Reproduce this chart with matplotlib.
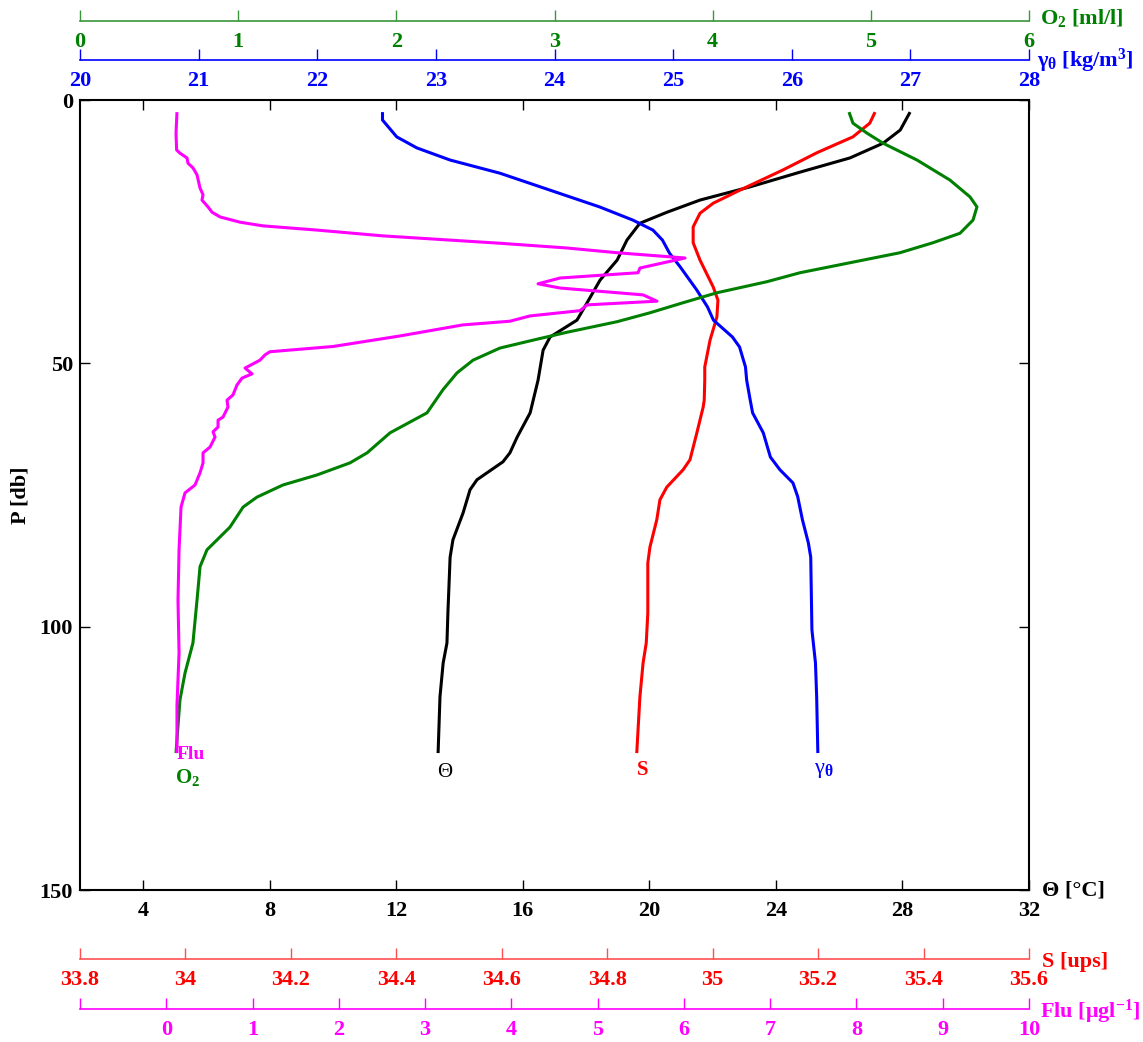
import numpy as np
import matplotlib
matplotlib.use("Agg")
import matplotlib.pyplot as plt

# profile data (pressure in db)
p_theta = [2.3, 5.7, 8.2, 11.0, 13.7, 16.5, 19.0, 21.3, 23.4, 26.6, 30.4, 34.2, 38.5, 41.8,
           45.0, 47.5, 53.2, 59.4, 64.0, 67.0, 68.7, 72.1, 74.0, 78.4, 83.5, 86.8, 97.4,
           103.1, 106.9, 113.3, 124.0]
theta = [28.24, 27.93, 27.39, 26.34, 24.76, 23.18, 21.60, 20.56, 19.70, 19.29, 18.98, 18.44,
         18.03, 17.71, 16.86, 16.64, 16.48, 16.23, 15.82, 15.59, 15.37, 14.55, 14.33, 14.11,
         13.79, 13.70, 13.63, 13.60, 13.48, 13.38, 13.32]

p_sal = [2.3, 4.4, 7.0, 10.0, 13.3, 17.1, 19.6, 21.5, 24.1, 27.1, 30.4, 35.5, 38.0, 41.2,
         45.6, 50.7, 53.2, 57.0, 58.3, 63.2, 68.3, 70.2, 73.5, 75.9, 79.7, 84.9, 87.9,
         97.4, 103.1, 106.9, 113.3, 124.0]
sal = [35.308, 35.298, 35.266, 35.198, 35.133, 35.052, 35.001, 34.976, 34.963, 34.963,
       34.976, 35.001, 35.010, 35.008, 34.995, 34.985, 34.985, 34.984, 34.982, 34.970,
       34.957, 34.944, 34.913, 34.900, 34.894, 34.881, 34.877, 34.877, 34.874, 34.868,
       34.862, 34.856]

p_gam = [2.3, 3.8, 7.0, 9.1, 11.4, 13.9, 17.1, 20.3, 22.8, 24.7, 26.6, 29.1, 31.7, 36.1,
         39.3, 41.8, 45.0, 46.9, 50.7, 53.2, 57.0, 59.4, 63.2, 67.8, 70.2, 72.7, 75.3,
         79.7, 84.1, 86.8, 100.6, 106.9, 113.3, 124.0]
gamma = [22.55, 22.55, 22.67, 22.84, 23.12, 23.54, 23.96, 24.38, 24.66, 24.83, 24.91,
         24.97, 25.06, 25.20, 25.29, 25.34, 25.50, 25.56, 25.61, 25.62, 25.65, 25.67,
         25.76, 25.82, 25.90, 26.01, 26.05, 26.09, 26.14, 26.16, 26.17, 26.20, 26.21, 26.22]

p_o2 = [2.3, 4.4, 6.3, 8.2, 11.4, 15.2, 18.4, 20.3, 22.8, 25.3, 27.1, 29.0, 30.9, 32.8,
        34.5, 36.6, 38.5, 40.4, 42.1, 44.1, 45.6, 47.1, 49.4, 51.8, 55.0, 59.4, 63.2,
        67.0, 68.9, 71.2, 73.1, 75.4, 77.3, 81.1, 85.4, 88.6, 94.9, 103.1, 108.8, 113.9,
        121.5, 124.0]
o2 = [4.862, 4.887, 4.976, 5.077, 5.292, 5.500, 5.627, 5.671, 5.646, 5.564, 5.393, 5.184,
      4.868, 4.552, 4.343, 4.027, 3.812, 3.604, 3.395, 3.079, 2.864, 2.655, 2.485, 2.384,
      2.295, 2.194, 1.960, 1.815, 1.707, 1.498, 1.283, 1.119, 1.031, 0.948, 0.803, 0.759,
      0.740, 0.714, 0.664, 0.632, 0.613, 0.607]

p_flu = [2.3, 3.8, 6.3, 9.5, 10.1, 11.0, 12.0, 12.9, 14.2, 16.7, 18.0, 19.0, 20.3, 21.3,
         22.2, 23.2, 23.9, 24.7, 25.8, 26.6, 27.2, 28.1, 29.0, 30.0, 31.9, 32.8, 33.8,
         34.9, 35.7, 37.0, 38.2, 38.9, 40.0, 41.0, 42.0, 42.7, 44.8, 46.8, 47.8, 48.4,
         49.4, 50.9, 52.0, 52.8, 54.1, 56.0, 57.0, 58.3, 60.2, 60.8, 62.1, 63.0, 64.0,
         65.9, 67.0, 68.9, 70.8, 73.1, 74.6, 77.3, 85.4, 95.0, 105.0, 115.0, 124.0]
flu = [0.124, 0.12, 0.113, 0.12, 0.159, 0.240, 0.252, 0.310, 0.356, 0.391, 0.426, 0.414,
       0.484, 0.530, 0.623, 0.855, 1.121, 1.747, 2.512, 3.289, 3.868, 4.645, 5.224, 6.013,
       5.491, 5.468, 4.564, 4.309, 4.564, 5.526, 5.688, 4.877, 4.796, 4.216, 3.984, 3.439,
       2.709, 1.933, 1.202, 1.144, 1.086, 0.913, 0.994, 0.878, 0.820, 0.773, 0.704, 0.715,
       0.658, 0.600, 0.600, 0.542, 0.565, 0.507, 0.426, 0.426, 0.391, 0.333, 0.217, 0.171,
       0.148, 0.136, 0.148, 0.124, 0.124]

theta_ticks = [4, 8, 12, 16, 20, 24, 28, 32]
p_ticks = [0, 50, 100, 150]
o2_ticks = [0, 1, 2, 3, 4, 5, 6]
gam_ticks = [20, 21, 22, 23, 24, 25, 26, 27, 28]
sal_ticks = [33.8, 34, 34.2, 34.4, 34.6, 34.8, 35, 35.2, 35.4, 35.6]
sal_labels = ["33.8", "34", "34.2", "34.4", "34.6", "34.8", "35", "35.2", "35.4", "35.6"]
flu_ticks = [-1, 0, 1, 2, 3, 4, 5, 6, 7, 8, 9, 10]

plt.rcParams["font.family"] = ["Liberation Serif", "DejaVu Serif"]
plt.rcParams["font.weight"] = "bold"
plt.rcParams["mathtext.fontset"] = "custom"
plt.rcParams["mathtext.rm"] = "Liberation Serif:bold"
plt.rcParams["mathtext.it"] = "Liberation Serif:bold"
plt.rcParams["mathtext.bf"] = "Liberation Serif:bold"

GREEN = "#008000"
BLUE = "#0000ff"
RED = "#ff0000"
MAG = "#ff00ff"
FS = 16

W, H = 1143, 1042
fig = plt.figure(figsize=(W / 100, H / 100), dpi=100)

L, R, T, B = 80, 1029, 100, 890
pos = [L / W, 1 - B / H, (R - L) / W, (B - T) / H]

ax = fig.add_axes(pos)
ax.set_xlim(2, 32)
ax.set_ylim(150, 0)
ax.set_xticks(theta_ticks)
ax.set_yticks(p_ticks)
ax.tick_params(direction="in", length=7, width=1, top=True, right=True,
               labelsize=FS, pad=8)
ax.tick_params(axis="y", pad=5)
for s in ax.spines.values():
    s.set_linewidth(1.5)


def overlay(xlim):
    a = fig.add_axes(pos, sharey=ax)
    a.set_xlim(*xlim)
    a.set_axis_off()
    a.patch.set_visible(False)
    return a


ax_s = overlay((33.8, 35.6))
ax_g = overlay((20, 28))
ax_o = overlay((0, 6))
ax_f = overlay((-1, 10))

kw = dict(lw=2.2, solid_joinstyle="round", solid_capstyle="butt")
ax_f.plot(flu, p_flu, color=MAG, **kw)
ax_o.plot(o2, p_o2, color=GREEN, **kw)
ax.plot(theta, p_theta, color="black", **kw)
ax_s.plot(sal, p_sal, color=RED, **kw)
ax_g.plot(gamma, p_gam, color=BLUE, **kw)

# curve labels
ax_f.text(0.12, 122.6, "Flu", color=MAG, fontsize=14, ha="left", va="top")
ax_o.text(0.6, 126.6, "O$_2$", color=GREEN, fontsize=15, ha="left", va="top")
ax.text(13.3, 125.8, "Θ", color="black", fontsize=15, fontweight="normal",
        ha="left", va="top")
ax_s.text(34.868, 125.3, "S", color=RED, fontsize=15, ha="center", va="top")
ax_g.text(26.19, 125.6, "γ$_θ$", color=BLUE, fontsize=16, fontweight="normal",
          ha="left", va="top")


def scale_axis(y_px, xlim, ticks, labels, line_color, text_color):
    a = fig.add_axes([L / W, 1 - y_px / H, (R - L) / W, 0.0001])
    a.set_xlim(*xlim)
    a.set_yticks([])
    a.patch.set_visible(False)
    for k in ("top", "left", "right"):
        a.spines[k].set_visible(False)
    a.spines["bottom"].set_color(line_color)
    a.spines["bottom"].set_linewidth(1.2)
    a.set_xticks(ticks)
    a.set_xticklabels(labels)
    a.tick_params(axis="x", direction="in", length=8, width=1, color=line_color,
                  labelcolor=text_color, labelsize=FS, pad=8)
    return a


scale_axis(21, (0, 6), o2_ticks, [str(t) for t in o2_ticks], "#3a963a", GREEN)
scale_axis(60, (20, 28), gam_ticks, [str(t) for t in gam_ticks], BLUE, BLUE)
scale_axis(959, (33.8, 35.6), sal_ticks, sal_labels, "#ff5050", RED)
af = scale_axis(1009, (-1, 10), flu_ticks, [""] + [str(t) for t in flu_ticks[1:]],
                MAG, MAG)
af.xaxis.get_major_ticks()[0].tick1line.set_color("#333333")

# axis titles
fig.text(1040 / W, 1 - 18 / H, "O$_2$ [ml/l]", color=GREEN, fontsize=FS, va="center")
fig.text(1037 / W, 1 - 61 / H, "γ$_θ$ [kg/m$^3$]", color=BLUE, fontsize=FS, va="center")
fig.text(1042 / W, 1 - 890 / H, "Θ [°C]", color="black", fontsize=FS, va="center")
fig.text(1042 / W, 1 - 962 / H, "S [ups]", color=RED, fontsize=FS, va="center")
fig.text(1040 / W, 1 - 1012 / H, "Flu [μgl$^{-1}$]", color=MAG, fontsize=FS, va="center")
fig.text(20 / W, 1 - 495 / H, "P [db]", color="black", fontsize=FS, rotation=90,
         ha="center", va="center")

fig.savefig("out.png", dpi=100)
